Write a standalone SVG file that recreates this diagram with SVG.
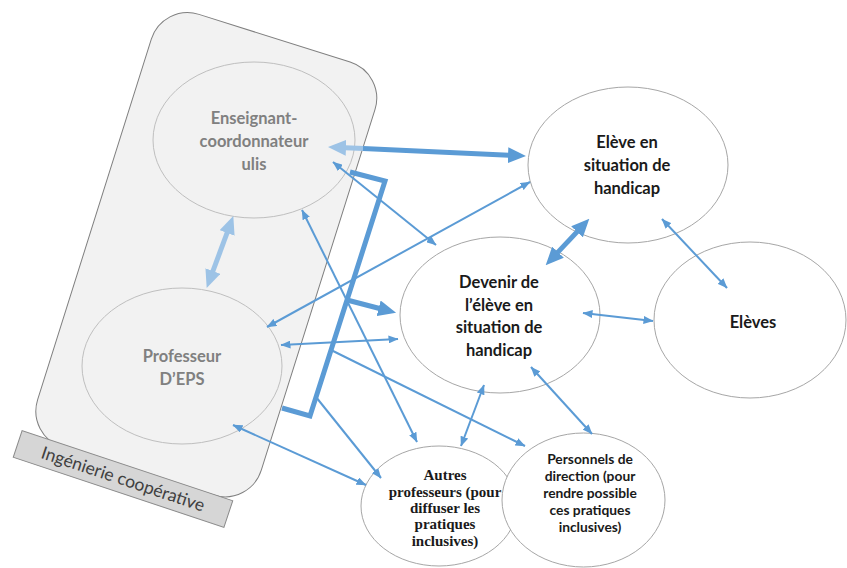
<svg xmlns="http://www.w3.org/2000/svg" width="847" height="568" viewBox="0 0 847 568">
<style>
.frame{fill:#f2f2f2;stroke:#7f7f7f;stroke-width:1}
.label{fill:#d6d6d6;stroke:#8a8a8a;stroke-width:1}
.gell{fill:#f2f2f2;stroke:#bfbfbf;stroke-width:1}
.well{fill:#ffffff;stroke:#a6a6a6;stroke-width:1}
.gt{font-family:Lato,"Open Sans",sans-serif;font-size:16.5px;font-weight:bold;fill:#808080;text-anchor:middle}
.bt{font-family:Lato,"Open Sans",sans-serif;font-size:16.5px;font-weight:bold;fill:#1a1a1a;text-anchor:middle}
.st{font-family:Lato,"Open Sans",sans-serif;font-size:13.8px;font-weight:bold;fill:#1a1a1a;text-anchor:middle}
.tt{font-family:"Liberation Serif","Times New Roman",serif;font-size:15px;font-weight:bold;fill:#1a1a1a;text-anchor:middle}
.lt{font-family:Lato,"Open Sans",sans-serif;font-size:17.5px;fill:#404040;text-anchor:middle}
.thin{stroke:#5b9bd5;stroke-width:2;fill:none;marker-start:url(#ah);marker-end:url(#ah)}
.one{stroke:#5b9bd5;stroke-width:2;fill:none;marker-end:url(#ah)}
.thick{stroke:#5b9bd5;stroke-width:5;fill:none}
.light{stroke:#9dc3e6;stroke-width:5;fill:none}
</style>
<defs>
<marker id="ah" markerUnits="userSpaceOnUse" viewBox="0 0 10 8" markerWidth="10" markerHeight="8" refX="9.5" refY="4" orient="auto-start-reverse"><path d="M0,0L10,4L0,8Z" fill="#5b9bd5"/></marker>
<marker id="bh" markerUnits="userSpaceOnUse" viewBox="0 0 18 16" markerWidth="18" markerHeight="16" refX="1" refY="8" orient="auto-start-reverse"><path d="M0,0L18,8L0,16Z" fill="#5b9bd5"/></marker>
<marker id="lh" markerUnits="userSpaceOnUse" viewBox="0 0 18 16" markerWidth="18" markerHeight="16" refX="1" refY="8" orient="auto-start-reverse"><path d="M0,0L18,8L0,16Z" fill="#9dc3e6"/></marker>
</defs>

<g id="ingenierie">
<rect class="frame" transform="translate(206.3,254.7) rotate(17.5)" x="-117.25" y="-227" width="234.5" height="454" rx="38"/>
</g>

<g id="enseignant">
<ellipse class="gell" cx="254" cy="140" rx="101" ry="78"/>
<text class="gt"><tspan x="254" y="124">Enseignant-</tspan><tspan x="254" y="147">coordonnateur</tspan><tspan x="254" y="170">ulis</tspan></text>
</g>

<g id="professeur-eps">
<ellipse class="gell" cx="182" cy="366" rx="100" ry="78"/>
<text class="gt"><tspan x="182" y="362">Professeur</tspan><tspan x="182" y="385">D’EPS</tspan></text>
</g>

<g id="label-ingenierie">
<g transform="translate(123,479) rotate(18.4)">
<rect class="label" x="-111" y="-14" width="222" height="28"/>
<text class="lt" x="0" y="6">Ingénierie coopérative</text>
</g>
</g>

<g id="eleve-handicap">
<ellipse class="well" cx="628" cy="165" rx="100" ry="78"/>
<text class="bt"><tspan x="627" y="148">Elève en</tspan><tspan x="627" y="171">situation de</tspan><tspan x="627" y="194">handicap</tspan></text>
</g>

<g id="devenir">
<ellipse class="well" cx="500" cy="315" rx="100" ry="78"/>
<text class="bt"><tspan x="499" y="288">Devenir de</tspan><tspan x="499" y="311">l’élève en</tspan><tspan x="499" y="333">situation de</tspan><tspan x="499" y="356">handicap</tspan></text>
</g>

<g id="eleves">
<ellipse class="well" cx="750" cy="320" rx="96" ry="78"/>
<text class="bt" x="753" y="328">Elèves</text>
</g>

<g id="autres-professeurs">
<ellipse class="well" cx="439" cy="506" rx="78" ry="60"/>
<text class="tt"><tspan x="445" y="480">Autres</tspan><tspan x="445" y="497">professeurs (pour</tspan><tspan x="445" y="513">diffuser les</tspan><tspan x="445" y="529">pratiques</tspan><tspan x="445" y="546">inclusives)</tspan></text>
</g>

<g id="personnels-direction">
<ellipse class="well" cx="583.5" cy="500" rx="81.5" ry="67"/>
<text class="st"><tspan x="590" y="464">Personnels de</tspan><tspan x="590" y="481">direction (pour</tspan><tspan x="590" y="498">rendre possible</tspan><tspan x="590" y="515">ces pratiques</tspan><tspan x="590" y="532">inclusives)</tspan></text>
</g>

<g id="connectors">
<line class="light" x1="227.4" y1="232" x2="212.6" y2="272" marker-start="url(#lh)" marker-end="url(#lh)"/>
<line class="light" x1="345" y1="147.8" x2="364" y2="148.6" marker-start="url(#lh)"/>
<line class="thick" x1="363" y1="148.6" x2="509" y2="155.2" marker-end="url(#bh)"/>
<polyline class="thick" points="350,172 385,181 310,416 282,408"/>
<line class="thick" stroke-width="4" x1="347" y1="300" x2="379.6" y2="308.5" marker-end="url(#bh)"/>
<line class="thick" x1="557.3" y1="252.9" x2="577.7" y2="231.1" marker-start="url(#bh)" marker-end="url(#bh)"/>
<line class="thin" x1="267" y1="327" x2="530" y2="182"/>
<line class="thin" x1="333" y1="162" x2="436" y2="245"/>
<line class="thin" x1="281" y1="345" x2="398" y2="339"/>
<line class="thin" x1="302" y1="210" x2="417" y2="442"/>
<line class="one" x1="331" y1="350" x2="525" y2="446"/>
<line class="one" x1="316" y1="397" x2="381" y2="478"/>
<line class="thin" x1="233" y1="425" x2="366" y2="485"/>
<line class="thin" x1="461" y1="446" x2="484" y2="385"/>
<line class="thin" x1="592" y1="434" x2="531" y2="367"/>
<line class="thin" x1="662" y1="219" x2="727" y2="288"/>
<line class="thin" x1="583" y1="313" x2="653" y2="321"/>
</g>
</svg>
